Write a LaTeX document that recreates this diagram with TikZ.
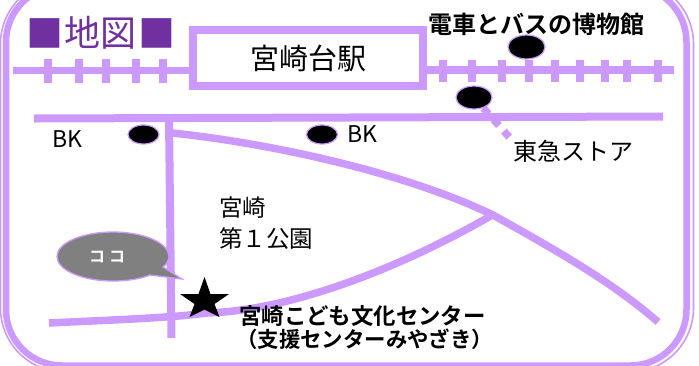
\documentclass[tikz,border=0pt]{standalone}
\usepackage{fontspec}
\setmainfont{Noto Sans CJK JP}[BoldFont={Noto Sans CJK JP Bold}]
\usetikzlibrary{shapes.geometric}
\definecolor{lilac}{HTML}{CC99FF}
\definecolor{deep}{HTML}{7030A0}
\definecolor{callout}{HTML}{808080}
\tikzset{
  railway/.style={draw=lilac,line width=7.5pt},
  tie/.style={draw=lilac,line width=8pt},
  roadway/.style={draw=lilac,line width=8pt},
  stop/.style={ellipse,draw=lilac,line width=1.2pt,fill=black,inner sep=0pt},
  lab/.style={inner sep=0pt,text=black,anchor=west},
}
\newcommand{\fs}[1]{\fontsize{#1pt}{#1pt}\selectfont}
\begin{document}
\begin{tikzpicture}[x=1pt,y=-1pt]
\useasboundingbox (0,0) rectangle (699,365);
\fill[white] (0,0) rectangle (699,365);
% frame
\draw[lilac,line width=1.6pt,rounded corners=64pt] (0.5,-20) rectangle (693.5,372);
\draw[lilac,line width=6.5pt,rounded corners=56pt] (6,-14) rectangle (686.5,365.5);
% rails
\coordinate (rl) at (13,70.5);
\coordinate (rr) at (674,70);
\foreach \x in {48,78.5,106,136,163}{\draw[tie] (\x,59) -- (\x,83);}
\foreach \x in {443,472,502,529,555,580,605,627,658}{\draw[tie] (\x,60) -- (\x,81.5);}
% station
\node[draw=lilac,line width=8pt,minimum width=230pt,minimum height=56pt,inner sep=0pt,fill=white,font=\fs{29}] (station) at (308,58) {宮崎台駅};
\draw[railway] (rl) -- (rl -| station.west);
\draw[railway] (rr -| station.east) -- (rr);
% roads
\coordinate (ra) at (34,118.5);
\coordinate (rb) at (663,116.5);
\draw[roadway] (ra) -- (rb);
\coordinate (va) at (169,118);
\coordinate (vb) at (171.5,338);
\draw[roadway] (va) -- (vb);
\draw[lilac,line width=7.5pt] (172,133) .. controls (260,142) and (400,170) .. (493,215) .. controls (550,247) and (610,280) .. (658,322);
\draw[lilac,line width=7.5pt] (49,323) .. controls (110,320) and (170,318) .. (207,313) .. controls (300,310) and (415,260) .. (494,214);
% stops
\node[stop,minimum width=31pt,minimum height=19pt] (s1) at (143.5,134.5) {};
\node[stop,minimum width=31pt,minimum height=19pt] (s2) at (322,134.5) {};
\node[stop,minimum width=37pt,minimum height=24pt] (s3) at (526.5,47) {};
\node[stop,minimum width=36pt,minimum height=23pt] (s4) at (474,97.5) {};
\coordinate (dotend) at (510,138);
\draw[lilac,line width=7.5pt,dash pattern=on 8pt off 7.5pt] (s4) -- (dotend);
% title
\node[text=deep,inner sep=0pt,font=\fs{37}] (sq1) at (45,33) {■};
\node[text=deep,inner sep=0pt,font=\fs{36}] (title) at (100.5,32.5) {地図};
\node[text=deep,inner sep=0pt,font=\fs{37}] (sq2) at (157,33) {■};
% labels
\node[lab,font=\fs{23}] (bk1) at (52,139) {BK};
\node[lab,font=\fs{23}] (bk2) at (347,134) {BK};
\node[lab,font=\fs{24}] (tokyu) at (513,151) {東急ストア};
\node[lab,font=\bfseries\fs{24}] (museum) at (428,24) {電車とバスの博物館};
\node[lab,font=\fs{23.5}] (park1) at (219,208) {宮崎};
\node[lab,font=\fs{23.5}] (park2) at (219,239) {第１公園};
\node[lab,font=\bfseries\fs{22.4}] (ctr1) at (239,316) {宮崎こども文化センター};
\node[lab,font=\bfseries\fs{21.4}] (ctr2) at (236,339) {（支援センターみやざき）};
% callout
\draw[lilac,line width=1.3pt,fill=callout] (163,267) -- (182,279) -- (150,275)
  .. controls (140,279) and (127,281) .. (113,281)
  .. controls (82,281) and (57,270) .. (57,256.5)
  .. controls (57,243) and (82,232) .. (113,232)
  .. controls (144,232) and (169,243) .. (169,256.5)
  .. controls (169,260) and (167,264) .. (163,267) -- cycle;
\node[text=white,inner sep=0pt,font=\bfseries\fs{16}] (here) at (107,257) {コ\hspace{4pt}コ};
% star
\fill[black] (204.5,277) -- (210.5,294) -- (229,294) -- (214.5,304) -- (219.5,317) -- (204.5,309.5) -- (189.5,317) -- (194.5,304) -- (180,294) -- (198.5,294) -- cycle;
\end{tikzpicture}
\end{document}
